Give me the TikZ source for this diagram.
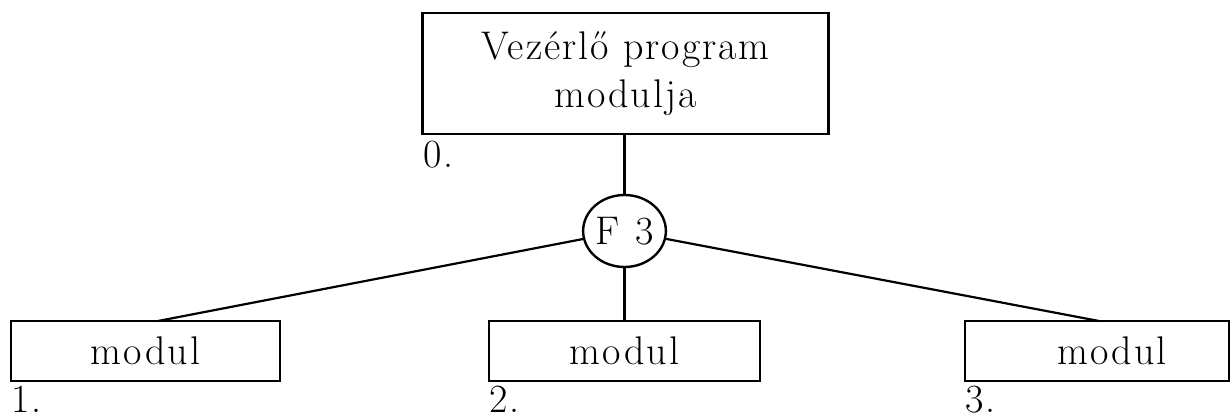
\documentclass[tikz,border=0pt]{standalone}
\usepackage{fontspec}
\setmainfont{Latin Modern Roman}[LetterSpace=5]
\usetikzlibrary{shapes.geometric}
\tikzset{
  txt/.style={font={\fontsize{40}{48}\selectfont}},
  box/.style={draw, line width=2.4pt, rectangle, inner sep=0pt, txt, align=center},
  hub/.style={draw, line width=2.4pt, ellipse, minimum width=80pt, minimum height=72pt, inner sep=0pt, txt},
  lbl/.style={txt, inner sep=0pt},
  wire/.style={line width=2.2pt}
}
\begin{document}
\begin{tikzpicture}[x=1pt,y=-1pt]
\useasboundingbox (0,0) rectangle (1231,419);
% top box
\node[box, minimum width=406pt, minimum height=121pt] (top) at (625.5,73.5) {Vezérlő program\\modulja};
\node[lbl, anchor=north west] (l0) at (423,141) {0.};
% hub
\node[hub] (c) at (624.5,231) {F\hspace{2pt} 3};
% bottom boxes
\node[box, minimum width=269pt, minimum height=60pt] (m1) at (145.5,351) {modul};
\node[box, minimum width=271pt, minimum height=60pt] (m2) at (624.5,351) {modul};
\node[box, minimum width=264pt, minimum height=60pt] (m3) at (1097,351) {\hspace*{30pt}modul};
\node[lbl, anchor=base west] (l1) at (11,412) {1.};
\node[lbl, anchor=base west] (l2) at (489,412) {2.};
\node[lbl, anchor=base west] (l3) at (965,412) {3.};
% connectors
\coordinate (e1) at (158,321);
\coordinate (e3) at (1099,321);
\draw[wire] (c.north) -- (c.north |- top.south);
\draw[wire] (c.south) -- (c.south |- m2.north);
\draw[wire] (c) -- (e1);
\draw[wire] (c) -- (e3);
\end{tikzpicture}
\end{document}
